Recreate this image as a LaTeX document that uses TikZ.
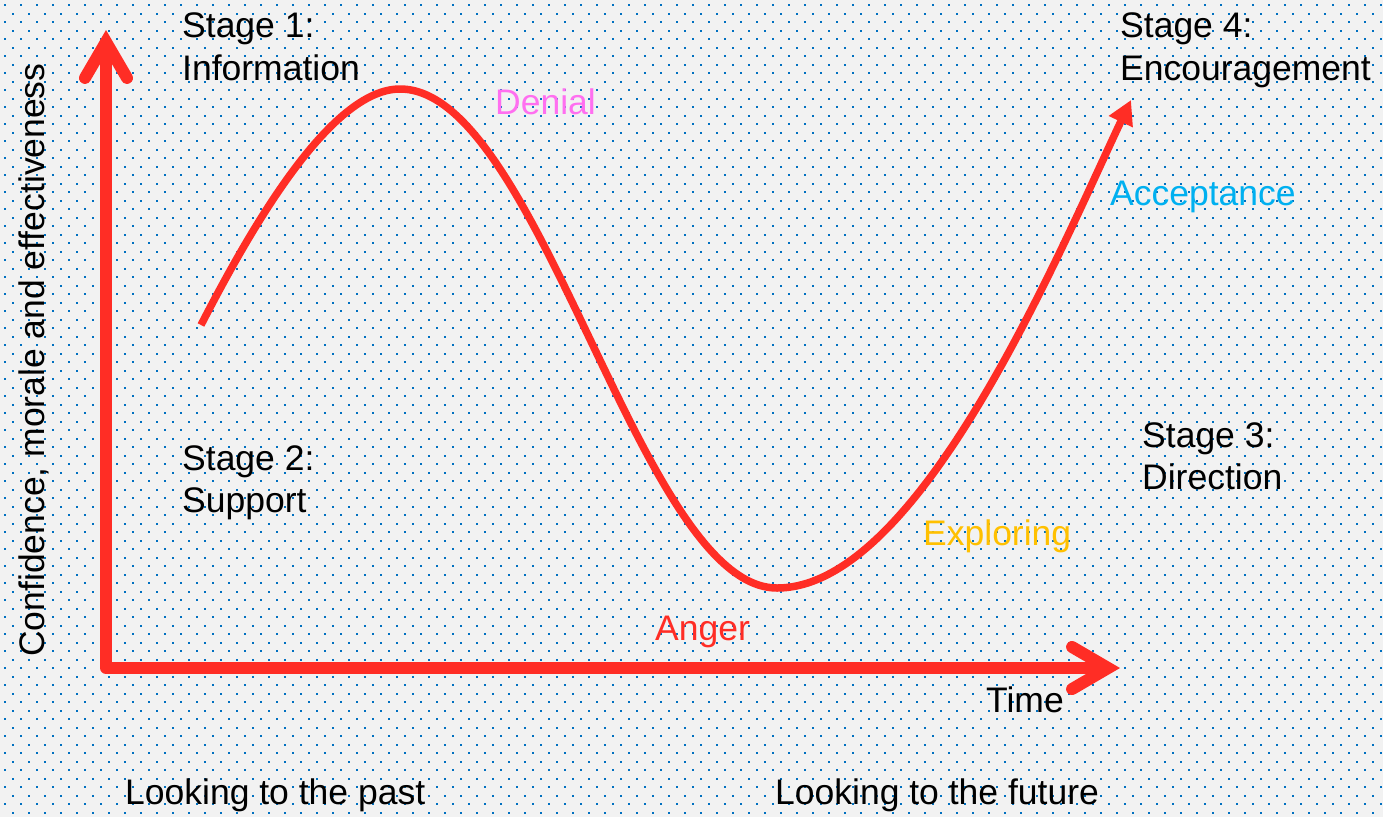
\documentclass[tikz,border=0pt]{standalone}
\usepackage{fontspec}
\setmainfont{Liberation Sans}
\usetikzlibrary{arrows.meta}
\definecolor{bgc}{HTML}{F2F2F2}
\definecolor{dotc}{HTML}{0070C0}
\definecolor{redc}{HTML}{FF2D25}
\definecolor{denialc}{HTML}{FF6FF0}
\definecolor{accc}{HTML}{00B0F0}
\definecolor{expc}{HTML}{FFC000}
\tikzset{
  axisline/.style={redc, line width=12pt, line join=round,
    {Straight Barb[length=36pt,width=42pt,line cap=round,line join=miter]}-{Straight Barb[length=36pt,width=42pt,line cap=round,line join=miter]}},
  curveline/.style={redc, line width=7.5pt, -{Triangle[length=24pt,width=25pt]}},
  lbl/.style={anchor=base west, inner sep=0pt, font=\fontsize{35.5}{42.6}\selectfont},
}
\begin{document}
\begin{tikzpicture}[x=1pt,y=-1pt]
\useasboundingbox (0,0) rectangle (1383,817);
\fill[bgc] (0,0) rectangle (1383,817);
% dotted background
\foreach \k in {0,...,96}{
  \pgfmathsetmacro{\yy}{5+8.5*\k}
  \pgfmathsetmacro{\xx}{mod(\k,2)==0 ? 4 : 12}
  \draw[dotc, line width=2pt, dash pattern=on 2pt off 14pt] (\xx,\yy) -- (1383,\yy);
}
% axes
\coordinate (ytip) at (106,30);
\coordinate (origin) at (106,668);
\coordinate (xtip) at (1120,668);
\draw[axisline] (ytip) -- (origin) -- (xtip);
% curve
\coordinate (cstart) at (201,325);
\coordinate (cpeak) at (400,89);
\coordinate (ctrough) at (777,588);
\coordinate (cend) at (1131,100);
\draw[curveline] (cstart) .. controls (250,230) and (330,89) .. (cpeak)
  .. controls (540,89) and (640,588) .. (ctrough)
  .. controls (920,588) and (1060,250) .. (cend);
% labels
\node[lbl] (s1a) at (182,37.5) {Stage 1:};
\node[lbl] (s1b) at (182,80) {Information};
\node[lbl] (s4a) at (1120,37.5) {Stage 4:};
\node[lbl] (s4b) at (1120,80) {Encouragement};
\node[lbl, text=denialc] (denial) at (495,114) {Denial};
\node[lbl, text=accc] (acc) at (1110,205.5) {Acceptance};
\node[lbl] (s3a) at (1142,447) {Stage 3:};
\node[lbl] (s3b) at (1142,489.5) {Direction};
\node[lbl] (s2a) at (182,470) {Stage 2:};
\node[lbl] (s2b) at (182,512.5) {Support};
\node[lbl, text=expc] (exp) at (923,545) {Exploring};
\node[lbl, text=redc] (anger) at (655,640) {Anger};
\node[lbl] (time) at (986,712) {Time};
\node[lbl] (past) at (125,804) {Looking to the past};
\node[lbl] (future) at (775,804) {Looking to the future};
\node[lbl, rotate=90] (ylab) at (44,657) {Confidence, morale and effectiveness};
\end{tikzpicture}
\end{document}
